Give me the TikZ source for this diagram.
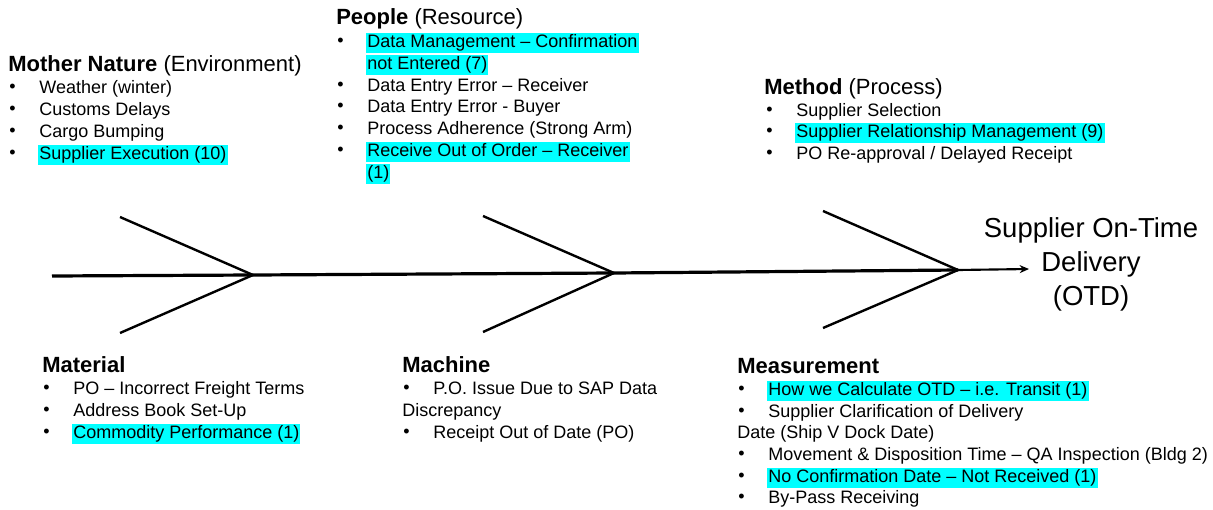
\documentclass[tikz,border=0pt]{standalone}
\usepackage{fontspec}
\setmainfont{Liberation Sans}
\usetikzlibrary{arrows.meta}
\definecolor{hlc}{RGB}{0,255,255}
\newcommand\bodyf{\fontsize{13.5}{16.5}\selectfont}
\newcommand\headf{\fontsize{16.5}{20}\selectfont}
\newcommand\titlef{\fontsize{20.6}{25.5}\selectfont}
\tikzset{
  item/.style={anchor=west, inner xsep=0.8pt, inner ysep=0.9pt, font=\bodyf, text height=10.3pt, text depth=3pt, yshift=-1.3pt},
  hl/.style={item, fill=hlc},
  bul/.style={anchor=west, inner sep=0pt, font=\bodyf, yshift=-1.3pt},
  head/.style={anchor=west, inner sep=0pt, font=\headf, yshift=-1.3pt},
  bone/.style={line width=1.8pt},
  spine/.style={line width=2.4pt}
}
\begin{document}
\begin{tikzpicture}[x=0.75pt,y=-0.75pt]
\useasboundingbox (0,0) rectangle (1213,510);
% fishbone
\coordinate (s0) at (52,276);
\coordinate (j1) at (253,275);
\coordinate (j2) at (614,273);
\coordinate (j3) at (958,270);
\coordinate (tip) at (1029,269);
\coordinate (u1) at (120,217);
\coordinate (u2) at (483,216);
\coordinate (u3) at (823,211);
\coordinate (d1) at (120,333);
\coordinate (d2) at (483,332);
\coordinate (d3) at (823,328);
\draw[spine] (s0) -- (j1) -- (j2) -- (j3);
\draw[line width=1.6pt,-{Stealth[length=7pt,width=6pt]}] (j3) -- (tip);
\draw[bone] (u1) -- (j1) -- (d1);
\draw[bone] (u2) -- (j2) -- (d2);
\draw[bone] (u3) -- (j3) -- (d3);
% title
\node[font=\titlef, align=center, inner sep=0pt] (title) at (1091,264) {Supplier On-Time\\Delivery\\(OTD)};
% Mother Nature
\node[head] (mnh) at (8,64) {\textbf{Mother Nature} (Environment)};
\node[bul] (mnb1) at (9,87) {•};
\node[bul] (mnb2) at (9,109) {•};
\node[bul] (mnb3) at (9,131) {•};
\node[bul] (mnb4) at (9,153) {•};
\node[item] (mn1) at (38,87) {Weather (winter)};
\node[item] (mn2) at (38,109) {Customs Delays};
\node[item] (mn3) at (38,131) {Cargo Bumping};
\node[hl] (mn4) at (38,153) {Supplier Execution (10)};
% People
\node[head] (peh) at (336,17) {\textbf{People} (Resource)};
\node[bul] (peb1) at (337,41) {•};
\node[bul] (peb2) at (337,85) {•};
\node[bul] (peb3) at (337,106) {•};
\node[bul] (peb4) at (337,128) {•};
\node[bul] (peb5) at (337,150) {•};
\node[hl] (pe1a) at (366,41) {Data Management – Confirmation};
\node[hl] (pe1b) at (366,63) {not Entered (7)};
\node[item] (pe2) at (366,85) {Data Entry Error – Receiver};
\node[item] (pe3) at (366,106) {Data Entry Error - Buyer};
\node[item] (pe4) at (366,128) {Process Adherence (Strong Arm)};
\node[hl] (pe5a) at (366,150) {Receive Out of Order – Receiver};
\node[hl] (pe5b) at (366,172) {(1)};
% Method
\node[head] (meh) at (764,87) {\textbf{Method} (Process)};
\node[bul] (meb1) at (766,110) {•};
\node[bul] (meb2) at (766,131) {•};
\node[bul] (meb3) at (766,153) {•};
\node[item] (me1) at (795,110) {Supplier Selection};
\node[hl] (me2) at (795,131) {Supplier Relationship Management (9)};
\node[item] (me3) at (795,153) {PO Re-approval / Delayed Receipt};
% Material
\node[head] (mah) at (42,363) {\textbf{Material}};
\node[bul] (mab1) at (43,388) {•};
\node[bul] (mab2) at (43,410) {•};
\node[bul] (mab3) at (43,432) {•};
\node[item] (ma1) at (72,388) {PO – Incorrect Freight Terms};
\node[item] (ma2) at (72,410) {Address Book Set-Up};
\node[hl] (ma3) at (72,432) {Commodity Performance (1)};
% Machine
\node[head] (mch) at (402,363) {\textbf{Machine}};
\node[bul] (mcb1) at (403,388) {•};
\node[bul] (mcb2) at (403,432) {•};
\node[item] (mc1a) at (432,388) {P.O. Issue Due to SAP Data};
\node[item] (mc1b) at (401,410) {Discrepancy};
\node[item] (mc2) at (432,432) {Receipt Out of Date (PO)};
% Measurement
\node[head] (msh) at (737,364) {\textbf{Measurement}};
\node[bul] (msb1) at (738,389) {•};
\node[bul] (msb2) at (738,411) {•};
\node[bul] (msb3) at (738,454) {•};
\node[bul] (msb4) at (738,476) {•};
\node[bul] (msb5) at (738,497) {•};
\node[hl] (ms1) at (767,389) {How we Calculate OTD – i.e. Transit (1)};
\node[item] (ms2a) at (767,411) {Supplier Clarification of Delivery};
\node[item] (ms2b) at (736,432) {Date (Ship V Dock Date)};
\node[item] (ms3) at (767,454) {Movement \& Disposition Time – QA Inspection (Bldg 2)};
\node[hl] (ms4) at (767,476) {No Confirmation Date – Not Received (1)};
\node[item] (ms5) at (767,497) {By-Pass Receiving};
\end{tikzpicture}
\end{document}
